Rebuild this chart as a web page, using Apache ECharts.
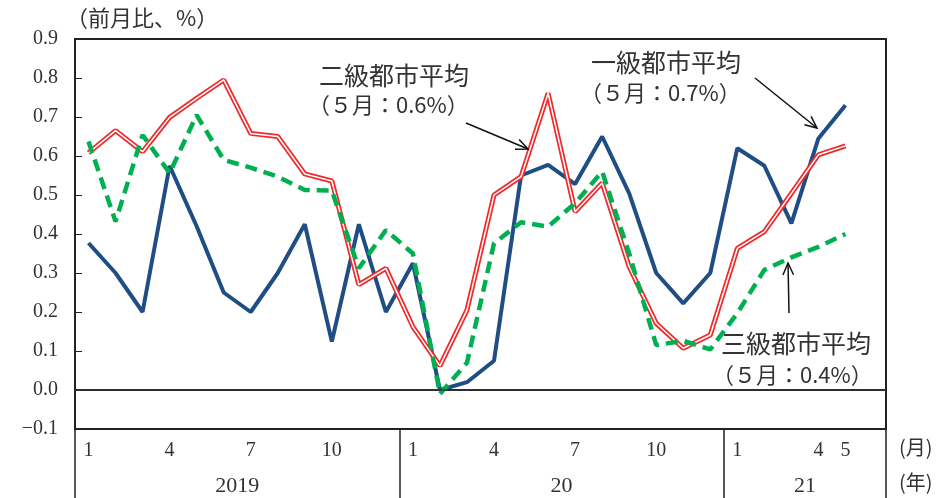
<!DOCTYPE html>
<html>
<head>
<meta charset="utf-8">
<script src="https://cdn.jsdelivr.net/npm/echarts@6/dist/echarts.min.js"></script>
<style>
html,body{margin:0;padding:0;background:#fff;}
#main{width:937px;height:498px;}
</style>
</head>
<body>
<div id="main"></div>
<script>
// 2019年1月～2021年5月（最後の1枠は空き）
var months = ['2019-1','2019-2','2019-3','2019-4','2019-5','2019-6','2019-7','2019-8','2019-9','2019-10','2019-11','2019-12',
    '2020-1','2020-2','2020-3','2020-4','2020-5','2020-6','2020-7','2020-8','2020-9','2020-10','2020-11','2020-12',
    '2021-1','2021-2','2021-3','2021-4','2021-5','2021-6'];
var monthLabels = ['1','','','4','','','7','','','10','','',
    '1','','','4','','','7','','','10','','',
    '1','','','4','5',''];
var yearLabels = ['2019','20','21'];
var yearPos = [6,18,27];
var yearSep = [0,12,24,30];

//一級都市平均
var tier1 = [0.377,0.30,0.20,0.575,0.42,0.25,0.20,0.30,0.425,0.124,0.425,0.20,
    0.325,0.0,0.02,0.075,0.55,0.577,0.528,0.65,0.504,0.30,0.222,0.30,
    0.62,0.575,0.427,0.645,0.73,null];
//二級都市平均
var tier2 = [0.608,0.665,0.611,0.699,0.748,0.795,0.658,0.65,0.554,0.536,0.27,0.312,
    0.162,0.062,0.205,0.50,0.547,0.761,0.457,0.531,0.316,0.171,0.107,0.141,
    0.363,0.406,0.504,0.603,0.626,null];
//三級都市平均
var tier3 = [0.637,0.432,0.654,0.556,0.705,0.59,0.57,0.547,0.513,0.511,0.312,0.41,
    0.35,-0.01,0.07,0.376,0.43,0.419,0.479,0.56,0.35,0.115,0.126,0.104,
    0.197,0.308,0.34,0.367,0.40,null];

var jpFont = '"Noto Sans CJK JP"';
var numFont = '"Liberation Serif"';

function arrow(x1, y1, x2, y2) {
    var a = Math.atan2(y2 - y1, x2 - x1), len = 13, w = 0.42;
    var st = {stroke:'#111', lineWidth:1.5};
    return [
        {type:'line', shape:{x1:x1, y1:y1, x2:x2, y2:y2}, style:st, z:100},
        {type:'polyline', shape:{points:[
            [x2 - len*Math.cos(a - w), y2 - len*Math.sin(a - w)],
            [x2, y2],
            [x2 - len*Math.cos(a + w), y2 - len*Math.sin(a + w)]
        ]}, style:st, z:100}
    ];
}
function label(txt, x, y, size) {
    return {type:'text', x:x, y:y, z:100, style:{text:txt, font:size + 'px ' + jpFont, fill:'#333', textVerticalAlign:'middle'}};
}

var chart = echarts.init(document.getElementById('main'));
var graphics = [
    label('（前月比、%）', 66, 18, 22),
    label('二級都市平均', 319, 75, 25),
    label('（５月：0.6%）', 308, 105, 22),
    label('一級都市平均', 591, 62, 25),
    label('（５月：0.7%）', 580, 93, 22),
    label('三級都市平均', 721, 343, 25),
    label('（５月：0.4%）', 712, 375, 22),
    label('(月)', 899, 447, 20),
    label('(年)', 899, 482, 20)
].concat(arrow(466,123,528,149), arrow(755,78,817,128), arrow(789,313,788,263));

var option = {
    animation: false,
    grid: {
        left: 75,
        right: 51,
        top: 39,
        bottom: 69,
        show: true,
        borderColor: '#222',
        borderWidth: 2
    },
    xAxis: [
        {
            type: 'category',
            data: months,
            boundaryGap: true,
            axisLine: {lineStyle: {color:'#222', width:2}},
            axisTick: {show:false},
            axisLabel: {
                interval: 0,
                margin: 12,
                color: '#333',
                fontFamily: numFont,
                fontSize: 20,
                formatter: function (v, i) { return monthLabels[i]; }
            }
        },
        {
            type: 'value',
            position: 'bottom',
            min: 0,
            max: 30,
            axisLine: {show:false},
            splitLine: {show:false},
            axisTick: {
                show: true,
                customValues: yearSep,
                length: 69,
                lineStyle: {color:'#222', width:1.5}
            },
            axisLabel: {
                customValues: yearPos,
                margin: 46,
                color: '#333',
                fontFamily: numFont,
                fontSize: 22,
                formatter: function (v) { return yearLabels[yearPos.indexOf(v)]; }
            }
        }
    ],
    yAxis: {
        type: 'value',
        min: -0.1,
        max: 0.9,
        interval: 0.1,
        splitLine: {show:false},
        axisLine: {show:true, lineStyle: {color:'#222', width:2}},
        axisTick: {show:true, inside:true, length:7, lineStyle:{color:'#222'}},
        axisLabel: {
            margin: 17,
            color: '#333',
            fontFamily: numFont,
            fontSize: 20,
            formatter: function (v) { return v.toFixed(1).replace('-', '−'); }
        }
    },
    series: [
        {
            name: '一級都市平均',
            type: 'line',
            data: tier1,
            symbol: 'none',
            lineStyle: {color:'#1f4e84', width:4},
            markLine: {
                silent: true,
                symbol: 'none',
                label: {show:false},
                lineStyle: {color:'#333', type:'solid', width:1.5},
                data: [{yAxis:0}]
            }
        },
        {
            name: '二級都市平均',
            type: 'line',
            data: tier2,
            symbol: 'none',
            lineStyle: {color:'#ee2a2a', width:5}
        },
        {
            name: '二級都市平均-inner',
            type: 'line',
            data: tier2,
            symbol: 'none',
            lineStyle: {color:'#ffffff', width:1.5}
        },
        {
            name: '三級都市平均',
            type: 'line',
            data: tier3,
            symbol: 'none',
            lineStyle: {color:'#00b050', width:4.5, type:[12,7]}
        }
    ],
    graphic: graphics
};
chart.setOption(option);
</script>
</body>
</html>
